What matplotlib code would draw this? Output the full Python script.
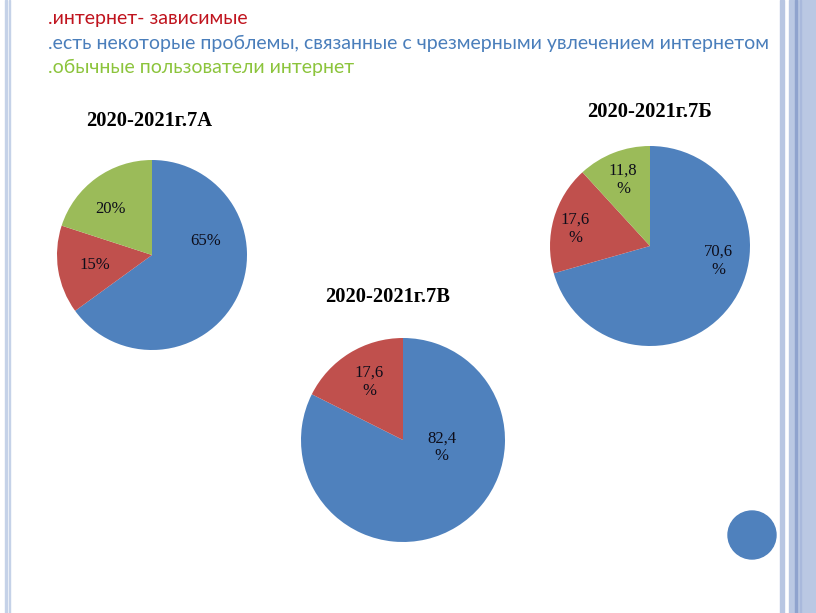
import numpy as np
import matplotlib.pyplot as plt
from matplotlib.patches import Circle, Rectangle

# legend lines at the top of the slide
legend_texts = ['.интернет- зависимые',
                '.есть некоторые проблемы, связанные с чрезмерными увлечением интернетом',
                '.обычные пользователи интернет']
legend_colors = ['#C0141E', '#4A7EBB', '#8CC43C']

# pie data (order: blue, red, green)
titles = ['2020-2021г.7А', '2020-2021г.7Б', '2020-2021г.7В']
values_a = [65, 15, 20]
values_b = [70.6, 17.6, 11.8]
values_c = [82.4, 17.6]
labels_a = ['65%', '15%', '20%']
labels_b = ['70,6\n%', '17,6\n%', '11,8\n%']
labels_c = ['82,4\n%', '17,6\n%']

colors = ['#4F81BD', '#C0504D', '#9BBB59']

W, H = 816, 613
fig = plt.figure(figsize=(W / 100, H / 100), dpi=100)
ax = fig.add_axes([0, 0, 1, 1])

def py(y):
    return H - y

# slide decoration
ax.add_patch(Rectangle((5, 0), 1.6, H, color='#C5D2E8', zorder=0))
ax.add_patch(Rectangle((8.5, 0), 1.6, H, color='#C5D2E8', zorder=0))
ax.add_patch(Rectangle((780, 0), 3.5, H, color='#B8C6E2', zorder=0))
ax.add_patch(Rectangle((789, 0), W - 789, H, color='#BAC8E3', zorder=0))
ax.add_patch(Rectangle((795, 0), 1.5, H, color='#8FA3CE', zorder=0))
ax.add_patch(Rectangle((800, 0), 1, H, color='#A9B9DC', zorder=0))
ax.add_patch(Circle((752, py(535)), 24, color='#4F81BD', zorder=1))

# legend text
for i, (t, c) in enumerate(zip(legend_texts, legend_colors)):
    ax.text(48, py(18.5 + i * 24.5), t, color=c, fontsize=14, family='Lato',
            va='center', ha='left')

# pies: center (x, y in image px), radius, title pos, label offsets in radius units
pies = [
    (values_a, labels_a, (152, 255), 95, (149, 121),
     [(0.56, 0.15), (-0.60, -0.11), (-0.44, 0.48)]),
    (values_b, labels_b, (650, 246), 100, (650, 112),
     [(0.68, -0.15), (-0.75, 0.17), (-0.27, 0.66)]),
    (values_c, labels_c, (403, 440), 102, (388, 297),
     [(0.38, -0.07), (-0.33, 0.57)]),
]

for (vals, labs, (cx, cy), r, (tx, ty), offs), title in zip(pies, titles):
    ax.pie(vals, colors=colors[:len(vals)], startangle=90, counterclock=False,
           center=(cx, py(cy)), radius=r, frame=True,
           wedgeprops=dict(linewidth=0))
    for lab, (dx, dy) in zip(labs, offs):
        ax.text(cx + dx * r, py(cy) + dy * r, lab, ha='center', va='center',
                fontsize=12, family='Liberation Serif', color='#0D0D1A',
                linespacing=1.15)
    ax.text(tx, py(ty), title, ha='center', va='center', fontsize=14.8,
            family='Liberation Serif', fontweight='bold', color='black')

ax.set_xlim(0, W)
ax.set_ylim(0, H)
ax.set_aspect('equal')
ax.axis('off')

fig.savefig('out.png', dpi=100)
